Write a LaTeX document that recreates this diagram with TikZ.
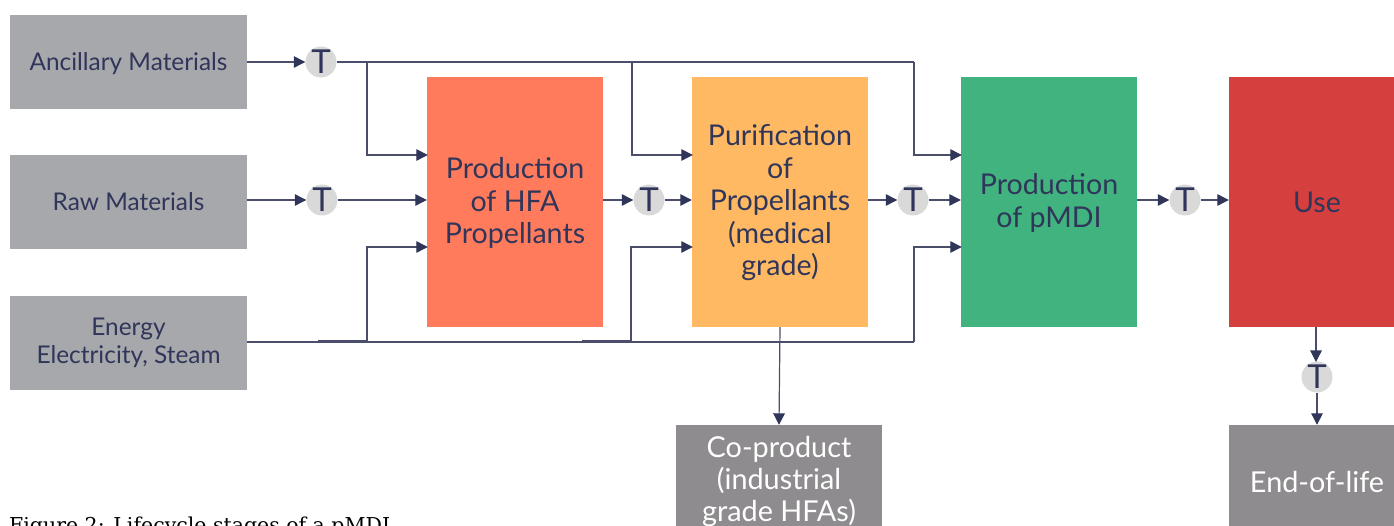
\documentclass[tikz,border=0pt]{standalone}
\usepackage{fontspec}
\setmainfont{Lato}
\newfontfamily\capfont{DejaVu Serif}
\usetikzlibrary{arrows.meta}
\definecolor{ink}{HTML}{30355A}
\definecolor{linec}{HTML}{4A4E6A}
\definecolor{greyA}{HTML}{A7A8AB}
\definecolor{greyB}{HTML}{8E8C8E}
\definecolor{tgrey}{HTML}{D9D9D9}
\definecolor{orangeb}{HTML}{FF7B5C}
\definecolor{yellowb}{HTML}{FFB963}
\definecolor{greenb}{HTML}{41B37E}
\definecolor{redb}{HTML}{D5403F}
\tikzset{
  inbox/.style={fill=greyA,minimum width=237pt,minimum height=94pt,inner sep=0pt,align=center,text=ink,font=\fontsize{24.4}{28}\selectfont},
  stage/.style={minimum width=176pt,minimum height=250pt,inner sep=0pt,align=center,text=ink,font=\fontsize{28.6}{32.5}\selectfont},
  stagetext/.style={inner sep=0pt,align=center,text=ink,font=\fontsize{28.6}{32.5}\selectfont,yshift=-1pt},
  outbox/.style={fill=greyB,minimum height=114pt,inner sep=0pt,align=center,text=white,font=\fontsize{28.8}{32}\selectfont},
  tnode/.style={circle,fill=tgrey,minimum size=31pt,inner sep=0pt,text=ink,font=\fontsize{33}{33}\selectfont},
  conn/.style={draw=linec,line width=1.2pt},
  arr/.style={conn,-{Triangle[length=11.5pt,width=11.5pt,color=ink]}}
}
\begin{document}
\begin{tikzpicture}[x=1pt,y=-1pt]
\useasboundingbox (0,0) rectangle (1394,526);
\clip (0,0) rectangle (1394,526);
\node[inbox,label={[inner sep=0pt,text=ink,font=\fontsize{24.4}{28}\selectfont,yshift=-2pt]center:Ancillary Materials}] (anc) at (128.5,62) {};
\node[inbox] (raw) at (128.5,202) {Raw Materials};
\node[inbox] (ene) at (128.5,343) {Energy\\Electricity, Steam};
\node[stage,fill=orangeb,label={[stagetext]center:Production\\of HFA\\Propellants}] (hfa) at (515,202) {};
\node[stage,fill=yellowb,label={[stagetext]center:Purification\\of\\Propellants\\(medical\\grade)}] (pur) at (780,202) {};
\node[stage,fill=greenb,label={[stagetext]center:Production\\of pMDI}] (pmd) at (1049,202) {};
\node[stage,fill=redb] (use) at (1317,202) {Use};
\node[outbox,minimum width=206pt] (cop) at (779,482) {Co-product\\(industrial\\grade HFAs)};
\node[outbox,minimum width=176pt] (eol) at (1317,482) {End-of-life};
\node[tnode] (t1) at (321,62) {T};
\node[tnode] (t2) at (322,200) {T};
\node[tnode] (t3) at (649,200) {T};
\node[tnode] (t4) at (913,200) {T};
\node[tnode] (t5) at (1185,200) {T};
\node[tnode] (t6) at (1317,377) {T};
\node[anchor=base west,inner sep=0pt,font=\capfont\fontsize{20.5}{20.5}\selectfont,text=black] (cap) at (9,532) {Figure 2: Lifecycle stages of a pMDI};
% junctions
\coordinate (ja) at (367,62);
\coordinate (jb) at (632,62);
\coordinate (jc) at (914,62);
\coordinate (ea) at (367,342);
\coordinate (eb) at (631,342);
\coordinate (ec) at (914,342);
\coordinate (ha) at (367,155);
\coordinate (hb) at (632,155);
\coordinate (hc) at (914,155);
\coordinate (la) at (367,247);
\coordinate (lb) at (631,247);
\coordinate (lc) at (914,247);
\coordinate (oa) at (318,341);
\coordinate (ob) at (582,341);
\coordinate (us) at (1316,327);
\coordinate (ut) at (1316,362);
% ancillary
\draw[arr] (anc.east) -- (t1.west);
\draw[conn] (t1.east) -- (jc);
\draw[arr] (jc) -- (hc) -- ([xshift=1pt]pmd.west |- hc);
\draw[arr] (ja) -- (ha) -- ([xshift=1pt]hfa.west |- ha);
\draw[arr] (jb) -- (hb) -- ([xshift=1pt]pur.west |- hb);
% raw and stage chain
\draw[arr] (raw.east |- t2) -- (t2.west);
\draw[arr] (t2.east) -- (hfa.west |- t2);
\draw[arr] (hfa.east |- t3) -- (t3.west);
\draw[arr] (t3.east) -- (pur.west |- t3);
\draw[arr] (pur.east |- t4) -- (t4.west);
\draw[arr] (t4.east) -- (pmd.west |- t4);
\draw[arr] (pmd.east |- t5) -- (t5.west);
\draw[arr] (t5.east) -- (use.west |- t5);
% energy
\draw[conn] (ene.east |- ec) -- (ec);
\draw[arr] (ec) -- (lc) -- ([xshift=1pt]pmd.west |- lc);
\draw[conn] (oa) -- (ea |- oa) -- (la);
\draw[arr] (ea) -- (la) -- ([xshift=1pt]hfa.west |- la);
\draw[conn] (ob) -- (eb |- ob) -- (lb);
\draw[arr] (eb) -- (lb) -- ([xshift=1pt]pur.west |- lb);
% outputs
\draw[arr] (pur.south) -- (cop.north);
\draw[arr] (us) -- (ut);
\draw[arr] (t6.south) -- (eol.north);
\end{tikzpicture}
\end{document}
